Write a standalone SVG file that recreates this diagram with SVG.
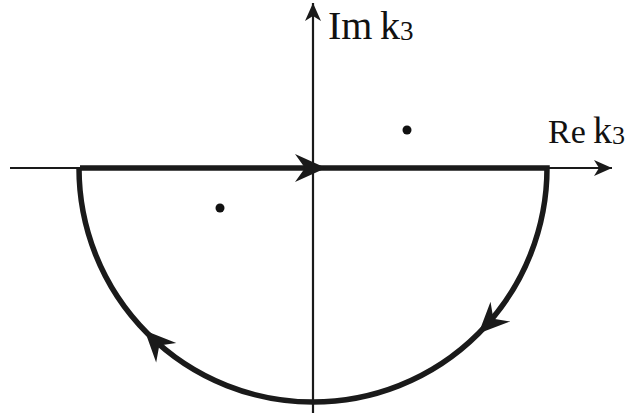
<svg xmlns="http://www.w3.org/2000/svg" width="638" height="418" viewBox="0 0 638 418">
<style>
.axis{stroke:#1a1a1a;stroke-width:2.2;fill:none}
.contour{stroke:#1a1a1a;stroke-width:5.5;fill:none}
.lbl{font-family:"Liberation Serif","DejaVu Serif",serif;fill:#111}
.dot{fill:#111}
</style>
<defs>
<path id="bigArrow" d="M0,0 L-31,-14 L-21,0 L-31,14 Z" fill="#1a1a1a"/>
<marker id="axArrow" markerUnits="userSpaceOnUse" markerWidth="24" markerHeight="18" refX="20" refY="9" orient="auto" viewBox="0 0 24 18">
<path d="M20,9 L2,1 L7,9 L2,17 Z" fill="#1a1a1a"/>
</marker>
</defs>
<g id="connectors">
<line class="axis" x1="10" y1="168" x2="612" y2="168" marker-end="url(#axArrow)"/>
<line class="axis" x1="313" y1="413" x2="313" y2="3" marker-end="url(#axArrow)"/>
<path class="contour" d="M80,168 L547,168 A234,234 0 0 1 79,168"/>
<use href="#bigArrow" transform="translate(326,168)"/>
<use href="#bigArrow" transform="translate(478.5,333.5) rotate(135)"/>
<use href="#bigArrow" transform="translate(144.7,330.5) rotate(226)"/>
</g>
<g id="pole1"><circle class="dot" cx="407" cy="130" r="4.5"/></g>
<g id="pole2"><circle class="dot" cx="220" cy="208" r="4.5"/></g>
<g id="label-im">
<text class="lbl" x="328" y="39" font-size="40">Im<tspan x="380">k</tspan><tspan x="400" dy="1" font-size="27">3</tspan></text>
</g>
<g id="label-re">
<text class="lbl" x="548" y="143" font-size="34">Re<tspan x="593" font-size="38">k</tspan><tspan x="612" dy="1" font-size="26">3</tspan></text>
</g>
</svg>
